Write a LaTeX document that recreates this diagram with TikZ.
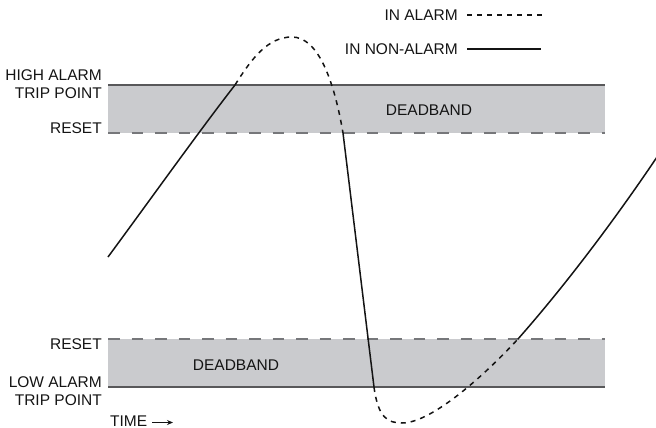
\documentclass[tikz,border=0pt]{standalone}
\usepackage{fontspec}
\setmainfont{Liberation Sans}
\usetikzlibrary{arrows.meta}
\definecolor{bandfill}{HTML}{CACBCE}
\definecolor{bandline}{HTML}{58585A}
\definecolor{banddash}{HTML}{76777A}
\begin{document}
\begin{tikzpicture}[x=1pt,y=-1pt,
  lbl/.style={font=\fontsize{15.5}{17}\selectfont,inner sep=0pt,text=black!92},
  solidcurve/.style={line width=1.5pt,black!92},
  dashcurve/.style={line width=1.5pt,black!92,dash pattern=on 5pt off 5pt},
  bandsolid/.style={line width=1.2pt,bandline},
  banddashed/.style={line width=2.2pt,banddash,dash pattern=on 11.5pt off 12pt}]
\useasboundingbox (0,0) rectangle (656,428);
% bands
\fill[bandfill] (108,85) rectangle (605,133);
\fill[bandfill] (108,339) rectangle (605,387);
\draw[bandsolid] (108,85) -- (605,85);
\draw[banddashed] (108,133) -- (605,133);
\draw[banddashed] (108,339) -- (605,339);
\draw[bandsolid] (108,387) -- (605,387);
% labels
\node[lbl,anchor=base east] (ha) at (102,80.5) {HIGH ALARM};
\node[lbl,anchor=base east] (tp1) at (102,99) {TRIP POINT};
\node[lbl,anchor=base east] (r1) at (102,133) {RESET};
\node[lbl,anchor=base east] (r2) at (102,349) {RESET};
\node[lbl,anchor=base east] (la) at (102,387) {LOW ALARM};
\node[lbl,anchor=base east] (tp2) at (102,405) {TRIP POINT};
\node[lbl,anchor=base west] (time) at (110,426) {TIME};
\coordinate (ta1) at (152,422.5);
\coordinate (ta2) at (173,422.5);
\draw[line width=1.1pt,black!92,-{Stealth[length=6pt,width=5pt]}] (ta1) -- (ta2);
\node[lbl,anchor=base] (db1) at (429,115) {DEADBAND};
\node[lbl,anchor=base] (db2) at (236,370.5) {DEADBAND};
% legend
\node[lbl,anchor=base east] (lg1) at (458,21) {IN ALARM};
\node[lbl,anchor=base east] (lg2) at (458,54.5) {IN NON-ALARM};
\coordinate (d1) at (467,15);
\coordinate (d2) at (544,15);
\coordinate (s1) at (467,49);
\coordinate (s2) at (541,49);
\draw[dashcurve,line width=1.3pt] (d1) -- (d2);
\draw[solidcurve,line width=1.3pt] (s1) -- (s2);
% curve
\coordinate (c0) at (108,257);
\coordinate (c1) at (235,85);
\coordinate (pk) at (292,37);
\coordinate (c2) at (343,133);
\coordinate (c3) at (374,387);
\coordinate (mn) at (402,423);
\coordinate (c4) at (518,339);
\coordinate (c5) at (657,157);
\draw[solidcurve] (c0) .. controls (150,200) and (200,130) .. (c1);
\draw[dashcurve] (c1) .. controls (252,58) and (268,37) .. (pk)
  .. controls (318,37) and (334,80) .. (c2);
\draw[solidcurve] (c2) -- (c3);
\draw[dashcurve] (c3) .. controls (378,418) and (388,423) .. (mn)
  .. controls (430,423) and (480,380) .. (c4);
\draw[solidcurve] (c4) .. controls (570,280) and (620,212) .. (c5);
\end{tikzpicture}
\end{document}
